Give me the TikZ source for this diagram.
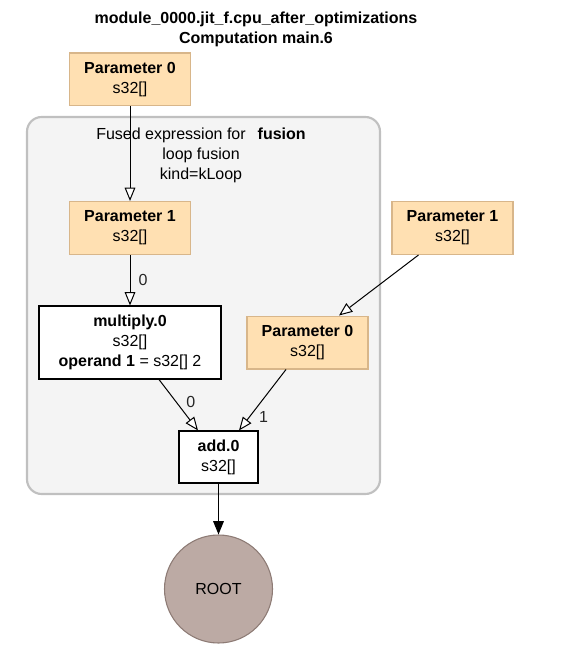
\documentclass[tikz,border=0pt]{standalone}
\usepackage{fontspec}
\setmainfont{Liberation Sans}
\usetikzlibrary{arrows.meta,calc}
\definecolor{pfill}{HTML}{FFE0B2}
\definecolor{pdraw}{HTML}{D8B68A}
\definecolor{cfill}{HTML}{F4F4F4}
\definecolor{cdraw}{HTML}{C0C0C0}
\definecolor{rfill}{HTML}{BCAAA4}
\definecolor{rdraw}{HTML}{8D7B75}
\begin{document}
\begin{tikzpicture}[x=0.75pt,y=-0.75pt,
  every node/.style={font=\fontsize{12}{15}\selectfont, inner sep=0pt, align=center},
  param/.style={rectangle, draw=pdraw, fill=pfill, line width=1pt, minimum width=90.75pt, minimum height=39.5pt},
  opbox/.style={rectangle, draw=black, fill=white, line width=0.8pt},
  openarrow/.style={-{Triangle[fill=white,length=10pt,width=8pt]}, line width=0.75pt},
  filledarrow/.style={-{Triangle[length=10pt,width=8pt]}, line width=0.75pt},
  elabel/.style={font=\fontsize{12}{12}\selectfont, text=black!85}]
\useasboundingbox (0,0) rectangle (560,648);
\node[draw=cdraw, fill=cfill, line width=1.6pt, rounded corners=11pt, minimum width=264.75pt, minimum height=282.75pt] (cluster) at (203.5,305.5) {};
\node (title) at (256,29) {\textbf{module\_0000.jit\_f.cpu\_after\_optimizations}\\\textbf{Computation main.6}};
\node[param] (p0) at (130,79.5) {\textbf{Parameter 0}\\s32[]};
\node (clabel) at (201,155) {Fused expression for\hspace{9pt}\textbf{fusion}\\loop fusion\\kind=kLoop};
\node[param] (p1in) at (130,228) {\textbf{Parameter 1}\\s32[]};
\node[param] (p1out) at (452.5,228) {\textbf{Parameter 1}\\s32[]};
\node[opbox, minimum width=136.5pt, minimum height=54.75pt] (mul) at (130,342.5) {\textbf{multiply.0}\\s32[]\\\textbf{operand 1} = s32[] 2};
\node[param] (p0in) at (307.5,342.5) {\textbf{Parameter 0}\\s32[]};
\node[opbox, minimum width=59.25pt, minimum height=39pt] (add) at (218.5,457) {\textbf{add.0}\\s32[]};
\node[circle, fill=rfill, draw=rdraw, line width=0.8pt, minimum size=81pt] (root) at (218.5,589) {ROOT};
\draw[openarrow] (p0) -- (p1in);
\draw[openarrow] (p1in) -- node[elabel, pos=0.5, anchor=west, xshift=6pt] {0} (mul);
\draw[openarrow] ($(mul.south)+(29,0)$) -- node[elabel, pos=0.45, anchor=west, xshift=7pt] {0} ($(add.north)+(-20.5,0)$);
\draw[openarrow] ($(p0in.south)+(-21.5,0)$) -- node[elabel, pos=0.78, anchor=west, xshift=7pt] {1} ($(add.north)+(20.5,0)$);
\draw[openarrow] ($(p1out.south)+(-34,0)$) -- ($(p0in.north)+(31.5,0)$);
\draw[filledarrow] (add) -- (root);
\end{tikzpicture}
\end{document}
